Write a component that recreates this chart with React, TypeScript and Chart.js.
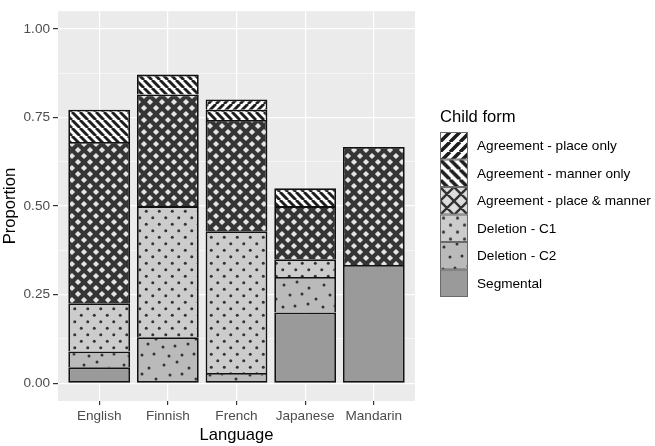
import React, { useEffect, useRef } from "react";
import { Chart, registerables } from "chart.js";

Chart.register(...registerables);

// Proportion of child forms per language (stacked to the bar total)
const languages = ["English", "Finnish", "French", "Japanese", "Mandarin"];
const childForms = [
  "Agreement - place only",
  "Agreement - manner only",
  "Agreement - place & manner",
  "Deletion - C1",
  "Deletion - C2",
  "Segmental",
];
const placeOnly = [0, 0, 0.029, 0, 0];
const mannerOnly = [0.091, 0.056, 0.029, 0.05, 0];
const placeManner = [0.455, 0.315, 0.314, 0.15, 0.333];
const deletionC1 = [0.136, 0.37, 0.4, 0.05, 0];
const deletionC2 = [0.045, 0.13, 0.029, 0.1, 0];
const segmental = [0.045, 0, 0, 0.2, 0.334];
const yMajorTicks = [0, 0.25, 0.5, 0.75, 1];
const yMinorTicks = [0.125, 0.375, 0.625, 0.875];

const FONT = "'Liberation Sans', Arial, Helvetica, sans-serif";
const BAR_BORDER = 1.8;

type Ctx = CanvasRenderingContext2D;

function makeTile(ctx: Ctx, w: number, h: number, draw: (g: Ctx) => void): CanvasPattern {
  const c = document.createElement("canvas");
  c.width = w;
  c.height = h;
  const g = c.getContext("2d") as Ctx;
  draw(g);
  return ctx.createPattern(c, "repeat") as CanvasPattern;
}

function stripePattern(ctx: Ctx, dir: "/" | "\\", p = 8, w = 2.9) {
  return makeTile(ctx, p, p, (g) => {
    g.fillStyle = "#ffffff";
    g.fillRect(0, 0, p, p);
    g.strokeStyle = "#1e1e1e";
    g.lineWidth = w;
    g.beginPath();
    for (const k of [-1, 0, 1]) {
      if (dir === "\\") {
        g.moveTo(k * p, 0);
        g.lineTo(k * p + p, p);
      } else {
        g.moveTo(k * p, p);
        g.lineTo(k * p + p, 0);
      }
    }
    g.stroke();
  });
}

function crosshatchPattern(ctx: Ctx) {
  const s = 12;
  const r = 3.1;
  return makeTile(ctx, s, s, (g) => {
    g.fillStyle = "#353535";
    g.fillRect(0, 0, s, s);
    g.fillStyle = "#e4e4e4";
    const centers = [
      [0, 0],
      [s, 0],
      [0, s],
      [s, s],
      [s / 2, s / 2],
    ];
    for (const [cx, cy] of centers) {
      g.beginPath();
      g.moveTo(cx, cy - r);
      g.lineTo(cx + r, cy);
      g.lineTo(cx, cy + r);
      g.lineTo(cx - r, cy);
      g.closePath();
      g.fill();
    }
  });
}

function legendCrosshatch(ctx: Ctx) {
  const s = 14;
  return makeTile(ctx, s, s, (g) => {
    g.fillStyle = "#dcdcdc";
    g.fillRect(0, 0, s, s);
    g.strokeStyle = "#333333";
    g.lineWidth = 2.4;
    g.beginPath();
    for (const k of [-1, 0, 1]) {
      g.moveTo(k * s, 0);
      g.lineTo(k * s + s, s);
      g.moveTo(k * s, s);
      g.lineTo(k * s + s, 0);
    }
    g.stroke();
  });
}

function gridDotPattern(ctx: Ctx, s = 13, r = 1.5) {
  return makeTile(ctx, s, s, (g) => {
    g.fillStyle = "#cccccc";
    g.fillRect(0, 0, s, s);
    g.fillStyle = "#333333";
    for (const [x, y] of [
      [s / 4, s / 4],
      [(3 * s) / 4, (3 * s) / 4],
    ]) {
      g.beginPath();
      g.arc(x, y, r, 0, Math.PI * 2);
      g.fill();
    }
  });
}

// scattered dots, laid out by hand on a 40px tile
const scatterDots = [
  [4, 5], [17, 2], [29, 8], [36, 19], [10, 15], [22, 14],
  [3, 27], [15, 26], [28, 24], [34, 34], [9, 36], [22, 35],
];

function scatterDotPattern(ctx: Ctx) {
  const s = 40;
  return makeTile(ctx, s, s, (g) => {
    g.fillStyle = "#bababa";
    g.fillRect(0, 0, s, s);
    g.fillStyle = "#333333";
    for (const [x, y] of scatterDots) {
      g.beginPath();
      g.arc(x, y, 1.5, 0, Math.PI * 2);
      g.fill();
    }
  });
}

const isMajor = (v: number) => Math.abs(v * 4 - Math.round(v * 4)) < 1e-6;

export default function App() {
  const canvasRef = useRef<HTMLCanvasElement | null>(null);

  useEffect(() => {
    document.body.style.margin = "0";
    const canvas = canvasRef.current;
    if (!canvas) return;
    const ctx = canvas.getContext("2d") as Ctx;

    const fills = {
      placeOnly: stripePattern(ctx, "/"),
      mannerOnly: stripePattern(ctx, "\\"),
      placeManner: crosshatchPattern(ctx),
      deletionC1: gridDotPattern(ctx),
      deletionC2: scatterDotPattern(ctx),
      segmental: "#9a9a9a",
    };

    // bottom of the stack first
    const series = [
      { label: childForms[5], values: segmental, fill: fills.segmental },
      { label: childForms[4], values: deletionC2, fill: fills.deletionC2 },
      { label: childForms[3], values: deletionC1, fill: fills.deletionC1 },
      { label: childForms[2], values: placeManner, fill: fills.placeManner },
      { label: childForms[1], values: mannerOnly, fill: fills.mannerOnly },
      { label: childForms[0], values: placeOnly, fill: fills.placeOnly },
    ];

    const legendFills: (string | CanvasPattern)[] = [
      stripePattern(ctx, "/", 10, 3.6),
      stripePattern(ctx, "\\", 10, 3.6),
      legendCrosshatch(ctx),
      gridDotPattern(ctx, 14, 1.6),
      scatterDotPattern(ctx),
      fills.segmental,
    ];

    // one outline per segment boundary: only the lowest filled segment keeps its bottom edge
    const segmentBorder = (c: any) => {
      const d = c.datasetIndex;
      const i = c.dataIndex;
      if (d === undefined || i === undefined) return BAR_BORDER;
      if (!(series[d].values[i] > 0)) return 0;
      const lowest = series.findIndex((s) => s.values[i] > 0);
      return {
        top: BAR_BORDER,
        left: BAR_BORDER,
        right: BAR_BORDER,
        bottom: d === lowest ? BAR_BORDER : 0,
      };
    };

    const panelPlugin = {
      id: "panelAndLegend",
      beforeDraw(chart: Chart) {
        const { ctx: c, chartArea: a } = chart;
        c.save();
        c.fillStyle = "#ebebeb";
        c.fillRect(a.left, a.top, a.right - a.left, a.bottom - a.top);
        c.restore();
      },
      afterDraw(chart: Chart) {
        const { ctx: c, chartArea: a } = chart;
        c.save();
        // axis titles
        c.fillStyle = "#000000";
        c.font = `16.6px ${FONT}`;
        c.textAlign = "center";
        c.textBaseline = "alphabetic";
        c.fillText("Language", (a.left + a.right) / 2, 440);
        c.save();
        c.translate(15, (a.top + a.bottom) / 2);
        c.rotate(-Math.PI / 2);
        c.fillText("Proportion", 0, 0);
        c.restore();

        // legend
        const lx = 440;
        const ky0 = 132;
        const kw = 28;
        const kh = 27.5;
        c.textAlign = "left";
        c.textBaseline = "middle";
        c.font = `16.6px ${FONT}`;
        c.fillText("Child form", lx, 117);
        c.font = `13.6px ${FONT}`;
        childForms.forEach((name, i) => {
          const y = ky0 + i * kh;
          c.save();
          c.translate(lx, y);
          c.fillStyle = legendFills[i];
          c.fillRect(0, 0, kw, kh);
          c.strokeStyle = "#6a6a6a";
          c.lineWidth = 1;
          c.strokeRect(0.5, 0.5, kw - 1, kh - 1);
          c.restore();
          c.fillStyle = "#000000";
          c.fillText(name, lx + kw + 9, y + kh / 2 + 0.5);
        });
        c.restore();
      },
    };

    const chart = new Chart(canvas, {
      type: "bar",
      data: {
        datasets: series.map((s) => ({
          label: s.label,
          data: languages.map((_, i) => ({ x: i + 1, y: s.values[i] })),
          backgroundColor: s.fill as any,
          borderColor: "#111111",
          borderWidth: segmentBorder,
          borderSkipped: false,
          inflateAmount: 0,
          barPercentage: 0.9,
          categoryPercentage: 1,
        })),
      },
      options: {
        animation: false,
        responsive: false,
        maintainAspectRatio: false,
        layout: { padding: { top: 2, right: 240, left: 0, bottom: 0 } },
        plugins: { legend: { display: false }, tooltip: { enabled: false } },
        scales: {
          x: {
            type: "linear",
            stacked: true,
            offset: false,
            min: 0.4,
            max: 5.6,
            afterBuildTicks: (s: any) => {
              s.ticks = languages.map((_, i) => ({ value: i + 1 }));
            },
            afterFit: (s: any) => {
              s.height = 45;
            },
            ticks: {
              autoSkip: false,
              maxRotation: 0,
              padding: 3,
              color: "#4d4d4d",
              font: { family: FONT, size: 13.6 },
              callback: (v: any) => languages[Math.round(Number(v)) - 1] ?? "",
            },
            grid: {
              offset: false,
              color: "#ffffff",
              lineWidth: 1.2,
              tickColor: "#333333",
              tickLength: 4,
            },
            border: { display: false },
          },
          y: {
            stacked: true,
            min: -0.05,
            max: 1.05,
            afterBuildTicks: (s: any) => {
              s.ticks = [...yMajorTicks, ...yMinorTicks]
                .sort((p, q) => p - q)
                .map((v) => ({ value: v }));
            },
            afterFit: (s: any) => {
              s.width = 58;
            },
            ticks: {
              autoSkip: false,
              padding: 3,
              color: "#4d4d4d",
              font: { family: FONT, size: 13.6 },
              callback: (v: any) => (isMajor(Number(v)) ? Number(v).toFixed(2) : ""),
            },
            grid: {
              color: "#ffffff",
              lineWidth: (c: any) => (isMajor(c.tick?.value ?? 0) ? 1.2 : 0.6),
              tickColor: (c: any) => (isMajor(c.tick?.value ?? 0) ? "#333333" : "rgba(0,0,0,0)"),
              tickLength: 5,
            },
            border: { display: false },
          },
        },
      },
      plugins: [panelPlugin as any],
    });

    return () => chart.destroy();
  }, []);

  return (
    <div style={{ width: 655, height: 446 }}>
      <canvas ref={canvasRef} width={655} height={446} style={{ display: "block" }} />
    </div>
  );
}
